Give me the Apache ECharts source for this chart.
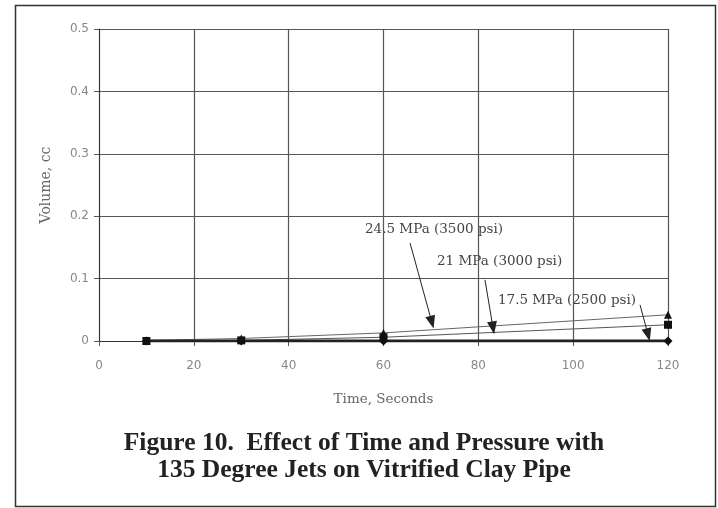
<!DOCTYPE html>
<html>
<head>
<meta charset="utf-8">
<script src="https://cdn.jsdelivr.net/npm/echarts@6/dist/echarts.min.js"></script>
<style>
  html, body { margin: 0; padding: 0; background: #fff; }
  #main { width: 718px; height: 508px; }
</style>
</head>
<body>
<div id="main"></div>
<script>
// time, seconds
const times = [10, 30, 60, 120];
// volume, cc per pressure
const mpa245 = [0.001, 0.004, 0.013, 0.042];
const mpa21 = [0, 0.001, 0.006, 0.026];
const mpa175 = [0, 0, 0, 0];
const yTicks = [0, 0.1, 0.2, 0.3, 0.4, 0.5];
const xTicks = [0, 20, 40, 60, 80, 100, 120];

// annotation arrows [from, to] in data units
const arrows = [
  [[65.6, 0.157], [70.2, 0.030]],
  [[81.4, 0.098], [83.1, 0.021]],
  [[114.1, 0.058], [115.8, 0.010]]
];

const pair = (xs, ys) => xs.map((x, i) => [x, ys[i]]);
const serif = '"Liberation Serif", "DejaVu Serif", serif';
const wideSerif = '"DejaVu Serif", serif';
const sans = '"DejaVu Sans", sans-serif';

const chart = echarts.init(document.getElementById('main'));

const lineSeries = (name, data, symbol, size, width, color) => ({
  name: name,
  type: 'line',
  data: data,
  symbol: symbol,
  symbolSize: size,
  showSymbol: true,
  lineStyle: { color: color, width: width },
  itemStyle: { color: '#111' },
  animation: false,
  z: 3
});

const arrowSeries = {
  type: 'line',
  data: [],
  silent: true,
  markLine: {
    silent: true,
    animation: false,
    symbol: ['none', 'triangle'],
    symbolSize: [10, 13],
    label: { show: false },
    lineStyle: { color: '#222', width: 1, type: 'solid' },
    data: arrows.map(a => [{ coord: a[0] }, { coord: a[1] }])
  }
};

chart.setOption({
  backgroundColor: '#fff',
  animation: false,
  grid: { left: 99, right: 50, top: 29, bottom: 167 },
  xAxis: {
    type: 'value',
    min: 0, max: 120, interval: 20,
    name: 'Time, Seconds',
    nameLocation: 'middle',
    nameGap: 51,
    nameTextStyle: { fontFamily: wideSerif, fontSize: 13.5, color: '#666' },
    axisLine: { show: true, lineStyle: { color: '#333', width: 1 } },
    axisTick: { show: true, length: 5, lineStyle: { color: '#555' } },
    axisLabel: { fontFamily: sans, fontSize: 12, color: '#888', margin: 19 },
    splitLine: { show: true, lineStyle: { color: '#555', width: 1.2 } }
  },
  yAxis: {
    type: 'value',
    min: 0, max: 0.5, interval: 0.1,
    name: 'Volume, cc',
    nameLocation: 'middle',
    nameGap: 46,
    nameTextStyle: { fontFamily: wideSerif, fontSize: 14, color: '#666' },
    axisLine: { show: true, lineStyle: { color: '#333', width: 1 } },
    axisTick: { show: true, length: 5, lineStyle: { color: '#555' } },
    axisLabel: {
      fontFamily: sans, fontSize: 12, color: '#888', margin: 10,
      formatter: v => String(Math.round(v * 10) / 10)
    },
    splitLine: { show: true, lineStyle: { color: '#555', width: 1.2 } }
  },
  graphic: [
    {
      type: 'rect', left: 13, top: 3, silent: true,
      shape: { width: 700, height: 501 },
      style: { fill: 'none', stroke: '#333', lineWidth: 1.5 }
    },
    {
      type: 'text', left: 365, top: 222,
      style: { text: '24.5 MPa (3500 psi)', font: '13.5px ' + wideSerif, fill: '#444' }
    },
    {
      type: 'text', left: 437, top: 254,
      style: { text: '21 MPa (3000 psi)', font: '13.5px ' + wideSerif, fill: '#444' }
    },
    {
      type: 'text', left: 498, top: 293,
      style: { text: '17.5 MPa (2500 psi)', font: '13.5px ' + wideSerif, fill: '#444' }
    },
    {
      type: 'text', x: 364, y: 443,
      style: {
        text: 'Figure 10.  Effect of Time and Pressure with',
        font: 'bold 25.5px ' + serif, fill: '#222',
        textAlign: 'center', textVerticalAlign: 'middle'
      }
    },
    {
      type: 'text', x: 364, y: 470,
      style: {
        text: '135 Degree Jets on Vitrified Clay Pipe',
        font: 'bold 25.5px ' + serif, fill: '#222',
        textAlign: 'center', textVerticalAlign: 'middle'
      }
    }
  ],
  series: [
    lineSeries('24.5 MPa (3500 psi)', pair(times, mpa245), 'triangle', 8, 1, '#666'),
    lineSeries('21 MPa (3000 psi)', pair(times, mpa21), 'rect', 8, 1, '#555'),
    lineSeries('17.5 MPa (2500 psi)', pair(times, mpa175), 'diamond', 9, 3, '#222'),
    arrowSeries
  ]
});
</script>
</body>
</html>
